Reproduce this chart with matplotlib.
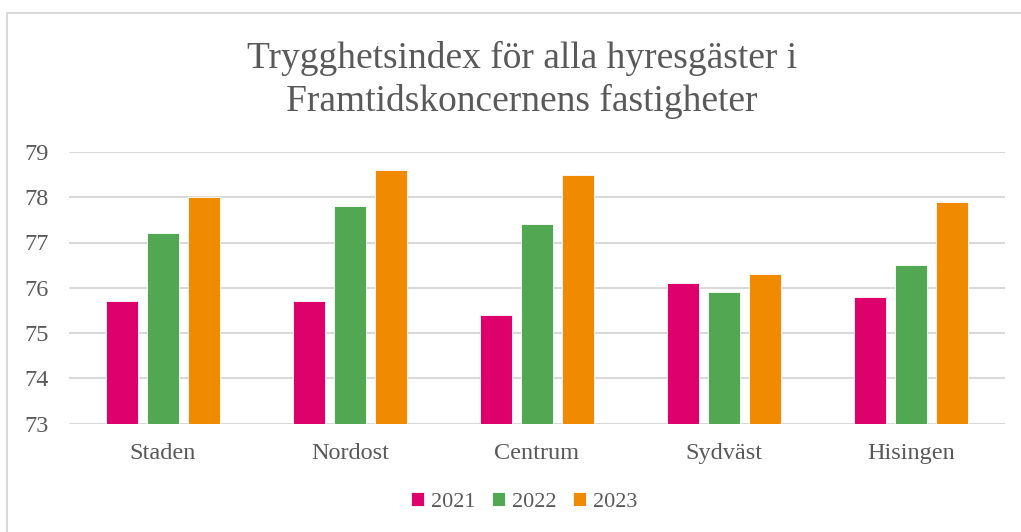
import matplotlib
matplotlib.use("Agg")
import matplotlib.pyplot as plt
import numpy as np
from matplotlib.patches import Rectangle

categories = ["Staden", "Nordost", "Centrum", "Sydväst", "Hisingen"]
series_names = ["2021", "2022", "2023"]
v2021 = [75.7, 75.7, 75.4, 76.1, 75.8]
v2022 = [77.2, 77.8, 77.4, 75.9, 76.5]
v2023 = [78.0, 78.6, 78.5, 76.3, 77.9]
colors = ["#DE006B", "#52A852", "#F08A00"]
yticks = [73, 74, 75, 76, 77, 78, 79]

plt.rcParams['font.family'] = ['Liberation Serif', 'DejaVu Serif']
W, H = 1021, 532
fig = plt.figure(figsize=(W/100, H/100), dpi=100)

# outer chart border
fig.add_artist(Rectangle((7/W, -0.05), 1.2, 1 - 13/H + 0.05, transform=fig.transFigure,
                         fill=False, edgecolor="#D9D9D9", linewidth=1.5))

ax = fig.add_axes([69/W, 1 - 423.5/H, (1005 - 69)/W, (423.5 - 152)/H])
x = np.arange(len(categories))
bw = 0.171
step = 0.219
for i, (vals, c, name) in enumerate(zip([v2021, v2022, v2023], colors, series_names)):
    ax.bar(x + (i - 1) * step, np.array(vals) - 73, bottom=73, width=bw, color=c,
           edgecolor="white", linewidth=0.6, label=name, zorder=3)

ax.set_xlim(-0.5, len(categories) - 0.5)
ax.set_ylim(73, 79)
ax.set_yticks(yticks)
ax.set_xticks(x)
ax.set_xticklabels(categories)
ax.grid(axis='y', color="#D9D9D9", linewidth=1.5, zorder=0)
for s in ax.spines.values():
    s.set_visible(False)
ax.tick_params(axis='both', length=0, labelsize=17.5, colors="#595959")
ax.tick_params(axis='y', pad=32)
ax.tick_params(axis='x', pad=14)
for lab in ax.get_yticklabels():
    lab.set_horizontalalignment('left')

fig.text(522/W, 1 - 58/H, "Trygghetsindex för alla hyresgäster i", ha='center', va='center',
         fontsize=27, color="#595959")
fig.text(522/W, 1 - 101/H, "Framtidskoncernens fastigheter", ha='center', va='center',
         fontsize=27, color="#595959")

leg = fig.legend(loc='center', bbox_to_anchor=(524/W, 1 - 502/H), ncol=3, frameon=False,
                 fontsize=16, handlelength=0.6, handleheight=0.6, handletextpad=0.3,
                 columnspacing=0.75)
for t in leg.get_texts():
    t.set_color("#595959")

fig.savefig("out.png", dpi=100)
